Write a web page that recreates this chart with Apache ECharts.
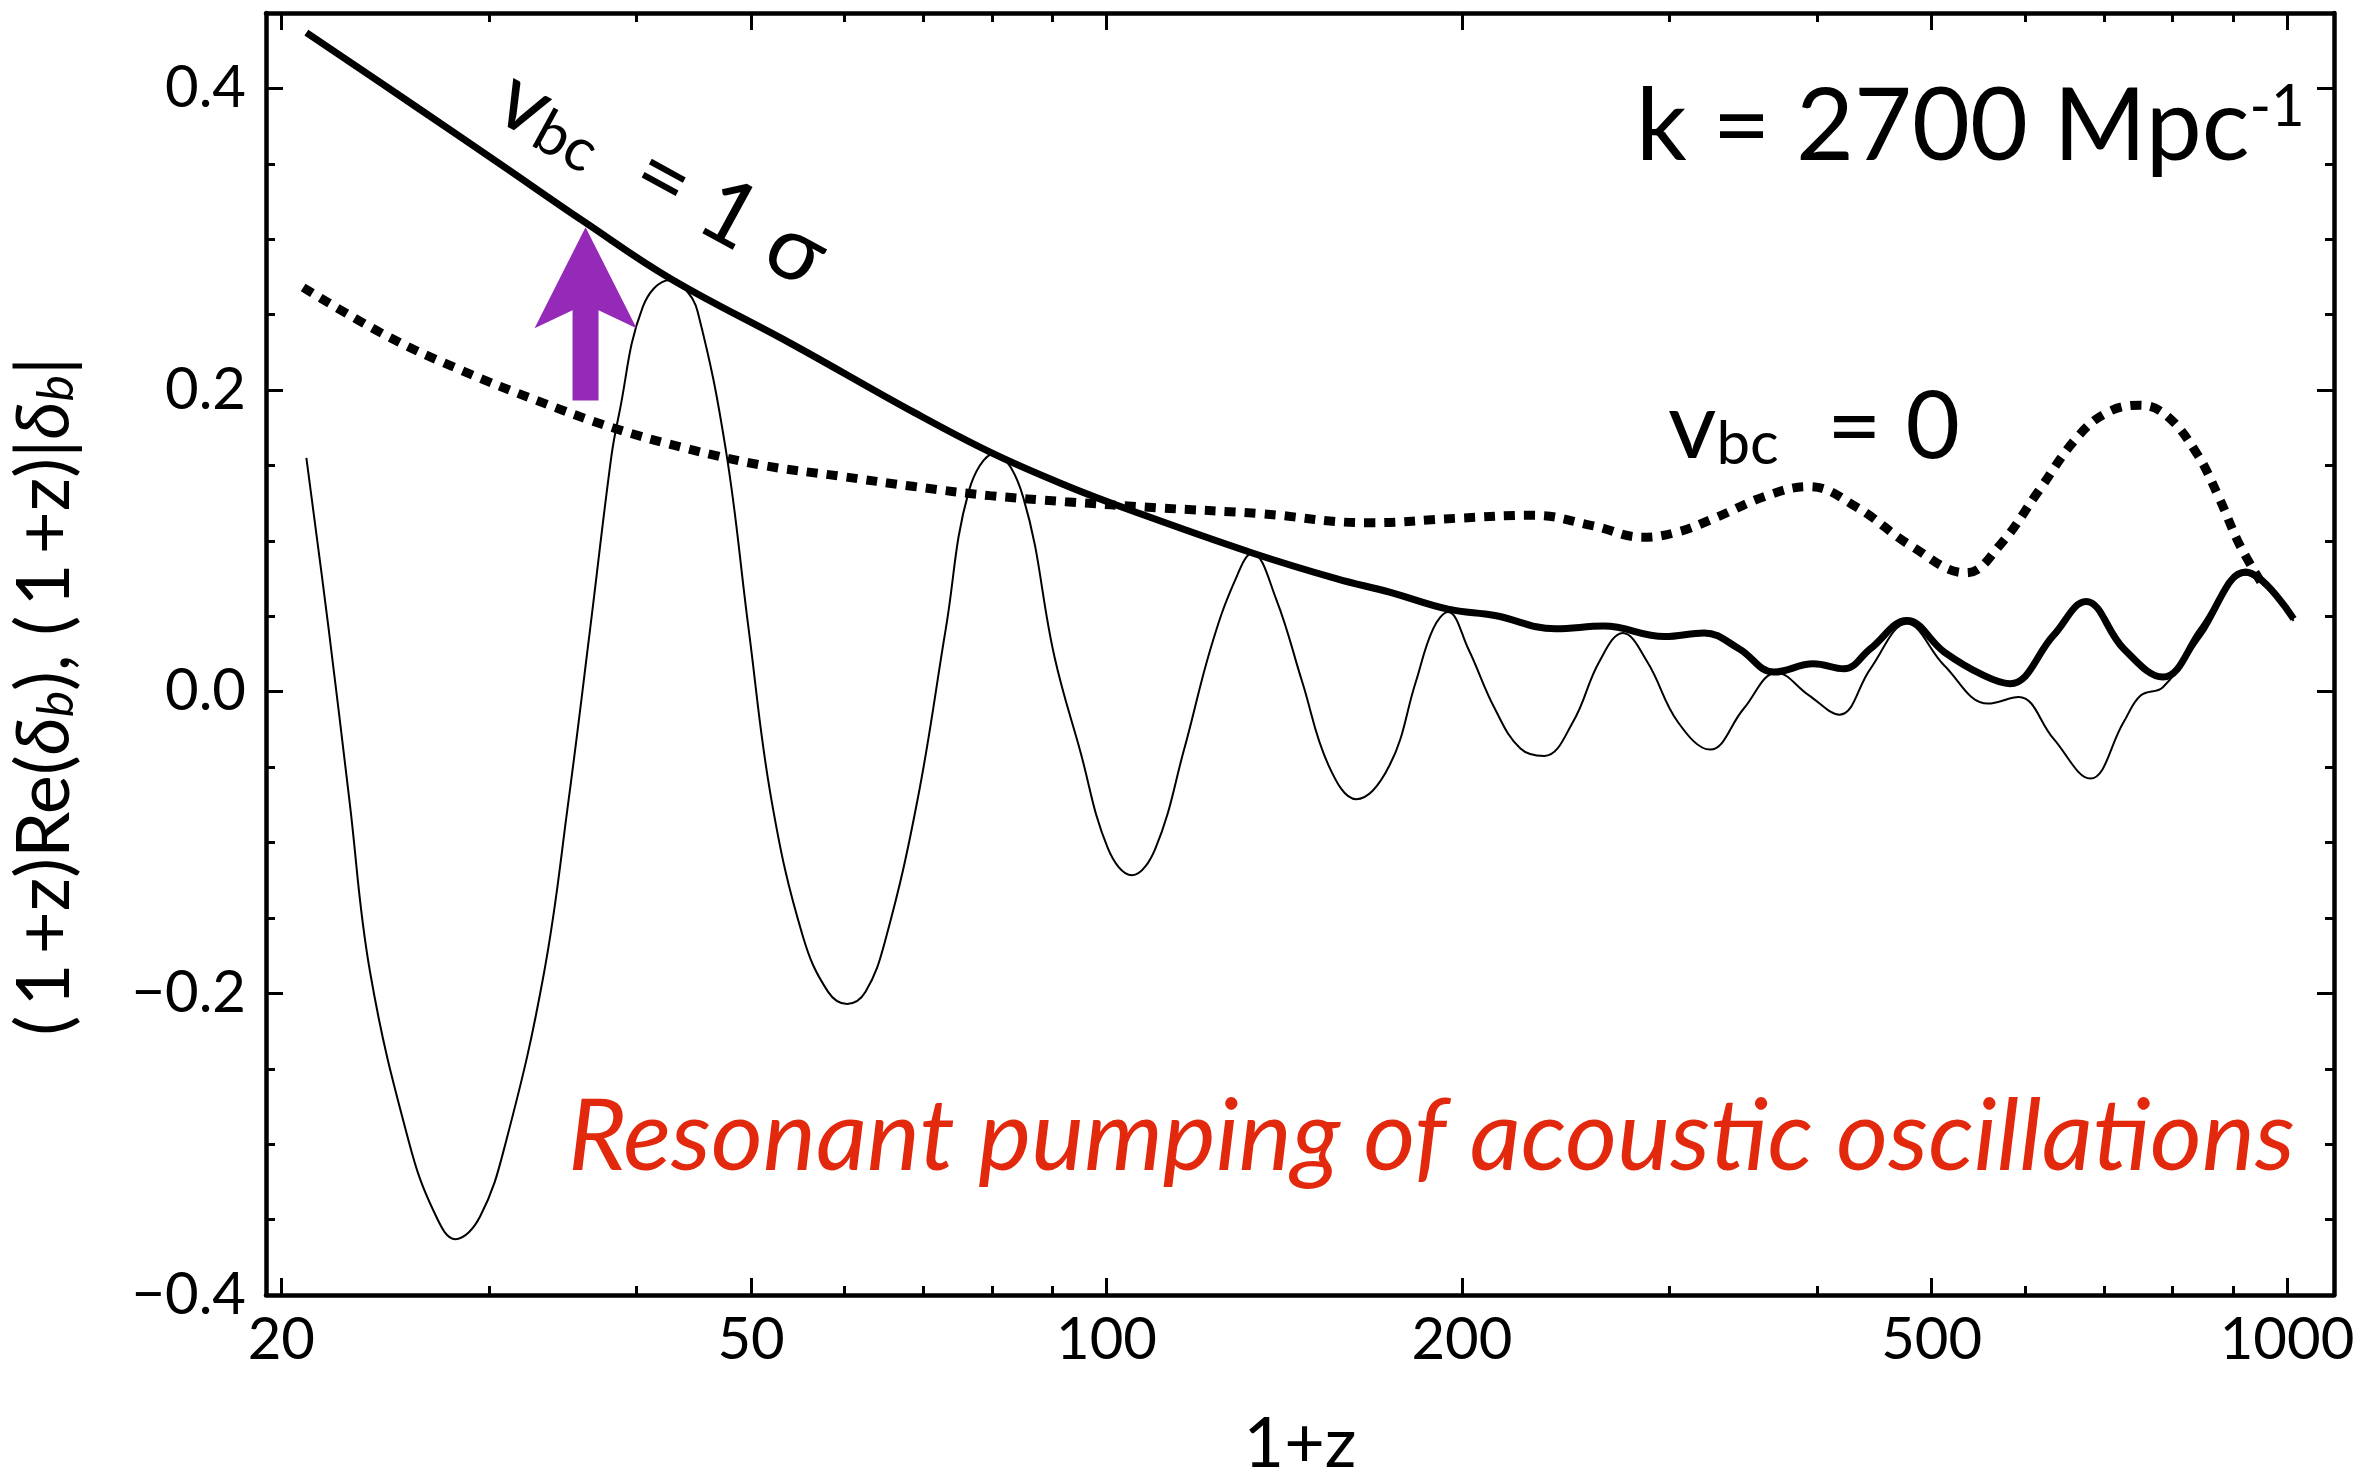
<!DOCTYPE html>
<html><head><meta charset="utf-8">
<script src="https://cdn.jsdelivr.net/npm/echarts@6/dist/echarts.min.js"></script>
<style>html,body{margin:0;padding:0;background:#fff;}#c{width:2375px;height:1484px;}</style>
</head><body><div id="c"></div>
<script>
// ---- data (x = 1+z, y values) ----
const thinX = [21.0,21.93,22.84,23.78,25.64,26.94,28.08,29.47,31.05,33.39,35.02,36.53,38.07,38.62,40.47,42.7,43.95,45.05,47.6,49.75,52.03,55.3,58.1,60.3,62.5,65.0,69.16,73.1,76.45,80.38,85.0,90.36,94.9,100.3,105.1,110.0,116.4,122.5,128.3,132.9,139.2,146.5,154.2,162.8,173.7,182.8,189.1,194.7,202.5,213.3,224.2,234.9,248.4,261.4,273.8,287.2,304.8,324.6,346.5,369.6,393.6,417.8,443.7,476.4,512.5,558.2,592.5,634.1,681.4,727.2,752,785,847.3,922.6,962.5,1013];
const thinY = [0.155,0.042,-0.072,-0.186,-0.298,-0.345,-0.363,-0.348,-0.296,-0.186,-0.072,0.042,0.156,0.183,0.255,0.273,0.267,0.252,0.160,0.042,-0.072,-0.162,-0.199,-0.207,-0.199,-0.164,-0.072,0.042,0.133,0.158,0.129,0.023,-0.038,-0.104,-0.1217,-0.104,-0.0377,0.0285,0.0726,0.092,0.0616,0.0064,-0.0488,-0.0713,-0.0488,0.0064,0.0417,0.0528,0.0285,-0.0113,-0.0377,-0.0426,-0.0201,0.0197,0.0389,0.0197,-0.0201,-0.0384,-0.0113,0.0126,-0.0024,-0.0152,0.0152,0.045,0.0174,-0.0079,-0.0035,-0.0311,-0.0576,-0.0201,-0.0024,0.003,0.0373,0.0775,0.0682,0.047];

const thickX = [21.0,25.99,30.5,36.2,42.7,54.3,68.77,80.1,92.5,105.1,132.9,156.8,173.7,194.7,213.3,240.1,263.8,297,320.9,343.4,367.6,397,421.4,443.7,476.4,512.5,553.4,582.6,634.1,675.6,727.2,785,847.3,922.6,1013];
const thickY = [0.437,0.388,0.351,0.311,0.274,0.230,0.185,0.158,0.1366,0.120,0.092,0.0748,0.066,0.0547,0.0505,0.0417,0.0435,0.0366,0.039,0.0285,0.013,0.0185,0.0152,0.0285,0.0472,0.0263,0.0108,0.0053,0.0373,0.0598,0.0285,0.0097,0.0417,0.0793,0.0483];

const dotX = [20.87,24.55,28.43,32.94,38.18,44.22,51.23,59.35,68.77,79.66,92.3,110.1,135.3,166.3,198.3,229.8,258.5,284.6,305,327.2,362.6,393.6,432.7,479.7,534.9,572.3,615.9,663,703.6,750.6,790.7,838.6,876.6,910.9,950];
const dotY = [0.268,0.236,0.213,0.193,0.175,0.161,0.150,0.143,0.136,0.130,0.126,0.122,0.118,0.112,0.115,0.117,0.110,0.1024,0.106,0.115,0.130,0.136,0.122,0.097,0.0788,0.098,0.133,0.168,0.185,0.190,0.183,0.158,0.128,0.098,0.073];

const xMajorTicks = [20,50,100,200,500,1000];
const xMinorTicks = [30,40,60,70,80,90,300,400,600,700,800,900];
const xTickLabels = [20,50,100,200,500,1000];
const X_MIN = 19.41, X_MAX = 1096;
const Y_MIN = -0.4, Y_MAX = 0.45;

// annotation anchors (data coordinates)
const ARROW_X = 36.2, ARROW_TIP_Y = 0.308, ARROW_BASE_Y = 0.193;

const FONT = 'Lato, "Open Sans", "DejaVu Sans", sans-serif';
const TS = '\u2009';
const LMIN = Math.log10(X_MIN), LMAX = Math.log10(X_MAX);
const zip = (xs, ys) => xs.map((x, i) => [x, ys[i]]);

const chart = echarts.init(document.getElementById('c'), null, {renderer: 'canvas'});

function tickAxis(pos, vals, len, showLine, extra) {
  return Object.assign({
    type: 'value', position: pos, min: LMIN, max: LMAX,
    axisLine: {show: showLine, onZero: false, lineStyle: {color: '#000', width: 4.5}},
    axisTick: {show: true, inside: true, length: len, customValues: vals.map(Math.log10), lineStyle: {color: '#000', width: 3}},
    axisLabel: {show: false},
    splitLine: {show: false}
  }, extra || {});
}
function yAxis(pos, interval, len, showLine, extra) {
  return Object.assign({
    type: 'value', position: pos, min: Y_MIN, max: Y_MAX, interval: interval,
    axisLine: {show: showLine, onZero: false, lineStyle: {color: '#000', width: 4.5}},
    axisTick: {show: true, inside: true, length: len, lineStyle: {color: '#000', width: 3}},
    axisLabel: {show: false},
    splitLine: {show: false}
  }, extra || {});
}

const option = {
  animation: false,
  backgroundColor: '#fff',
  grid: {left: 258, right: 41, top: 13, bottom: 187, containLabel: false},
  xAxis: [
    {type: 'log', logBase: 10, min: X_MIN, max: X_MAX, show: false, axisLine: {onZero: false}},
    tickAxis('bottom', xMajorTicks, 17, true, {
      axisLabel: {show: true, customValues: xTickLabels.map(Math.log10),
        formatter: v => String(Math.round(Math.pow(10, v))),
        fontFamily: FONT, fontSize: 58, color: '#000', margin: 16},
      name: '1+z', nameLocation: 'middle', nameGap: 114,
      nameTextStyle: {fontFamily: FONT, fontSize: 70, color: '#000'}
    }),
    tickAxis('bottom', xMinorTicks, 9, false),
    tickAxis('top', xMajorTicks, 17, true),
    tickAxis('top', xMinorTicks, 9, false)
  ],
  yAxis: [
    yAxis('left', 0.2, 17, true, {
      axisLabel: {show: true, showMaxLabel: false, fontFamily: FONT, fontSize: 58, color: '#000', margin: 20,
        formatter: v => v.toFixed(1).replace('-', '\u2212')},
      name: '(' + TS + '1' + TS + '+z)Re({i|δ}{s|b}), (' + TS + '1' + TS + '+z)|{i|δ}{s|b}|',
      nameLocation: 'middle', nameGap: 184, nameRotate: 90,
      nameTextStyle: {fontFamily: FONT, fontSize: 74, color: '#000', padding: [0, 84, 0, 0],
        rich: {i: {fontFamily: FONT, fontSize: 74, fontStyle: 'italic', color: '#000'},
               s: {fontFamily: FONT, fontSize: 50, fontStyle: 'italic', color: '#000', verticalAlign: 'bottom'}}}
    }),
    yAxis('left', 0.05, 9, false),
    yAxis('right', 0.2, 17, true),
    yAxis('right', 0.05, 9, false)
  ],
  series: [
    {name: 'vbc=0', type: 'line', xAxisIndex: 0, yAxisIndex: 0, data: zip(dotX, dotY),
     showSymbol: false, smooth: 0.4, lineStyle: {color: '#000', width: 9, type: [11, 9]}},
    {name: 'vbc=1sigma |delta|', type: 'line', xAxisIndex: 0, yAxisIndex: 0, data: zip(thickX, thickY),
     showSymbol: false, smooth: 0.4, lineStyle: {color: '#000', width: 7}},
    {name: 'Re delta', type: 'line', xAxisIndex: 0, yAxisIndex: 0, data: zip(thinX, thinY),
     showSymbol: false, smooth: 0.4, lineStyle: {color: '#000', width: 2}}
  ]
};
chart.setOption(option);

const tip = chart.convertToPixel({xAxisIndex: 0, yAxisIndex: 0}, [ARROW_X, ARROW_TIP_Y]);
const base = chart.convertToPixel({xAxisIndex: 0, yAxisIndex: 0}, [ARROW_X, ARROW_BASE_Y]);
const tx = tip[0], ty = tip[1], by = base[1];
chart.setOption({
  graphic: [
    {type: 'polygon', z: 100, shape: {points: [
      [tx, ty], [tx + 51, ty + 101], [tx + 13, ty + 83], [tx + 13, by],
      [tx - 13, by], [tx - 13, ty + 83], [tx - 51, ty + 101]]},
     style: {fill: '#962AB8'}},
    {type: 'text', z: 100, x: 1636, y: 128,
     style: {text: 'k = 2700 Mpc{sup|-1}', fontFamily: FONT, fontSize: 100, fill: '#000',
       textAlign: 'left', textVerticalAlign: 'middle',
       rich: {sup: {fontFamily: FONT, fontSize: 58, fill: '#000', verticalAlign: 'top'}}}},
    {type: 'text', z: 100, x: 1668, y: 428,
     style: {text: 'v{sub|bc}  = 0', fontFamily: FONT, fontSize: 94, fill: '#000',
       textAlign: 'left', textVerticalAlign: 'middle',
       rich: {sub: {fontFamily: FONT, fontSize: 60, fill: '#000', verticalAlign: 'bottom'}}}},
    {type: 'text', z: 100, x: 662, y: 178, rotation: -0.50,
     style: {text: 'v{sub|bc}  = 1 σ', fontFamily: FONT, fontSize: 90, fill: '#000',
       textAlign: 'center', textVerticalAlign: 'middle',
       rich: {sub: {fontFamily: FONT, fontSize: 60, fill: '#000', verticalAlign: 'bottom'}}}},
    {type: 'text', z: 100, x: 568, y: 1138,
     style: {text: 'Resonant pumping of acoustic oscillations', fontFamily: FONT, fontSize: 100,
       fontStyle: 'italic', fill: '#E2290E', textAlign: 'left', textVerticalAlign: 'middle'}}
  ]
});
</script></body></html>
